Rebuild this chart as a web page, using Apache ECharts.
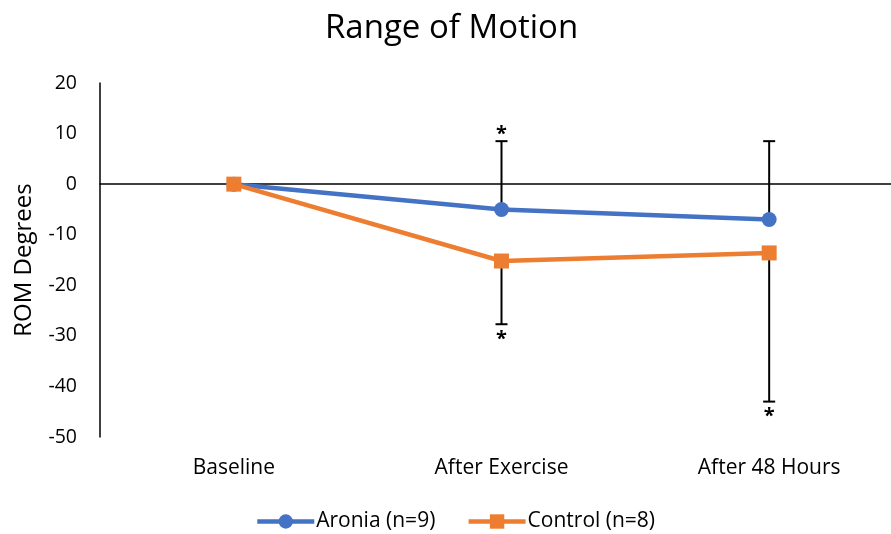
<!DOCTYPE html>
<html>
<head>
<meta charset="utf-8">
<script src="https://cdn.jsdelivr.net/npm/echarts@6/dist/echarts.min.js"></script>
<style>
html,body{margin:0;padding:0;background:#fff;}
#chart{width:891px;height:534px;}
</style>
</head>
<body>
<div id="chart"></div>
<script>
const categories = ['Baseline', 'After Exercise', 'After 48 Hours'];
const aronia = [0, -5, -7];
const control = [0, -15.2, -13.6];
const aroniaErrUp = [0, 13.5, 15.5];
const controlErrDown = [0, 12.5, 29.4];
const aroniaSig = ['', '*', ''];
const controlSig = ['', '*', '*'];
const yTicks = [-50, -40, -30, -20, -10, 0, 10, 20];

const FONT = '"Open Sans"';
const chart = echarts.init(document.getElementById('chart'));

function errData(vals, errs, dir) {
  return vals.map((v, i) => [i, v, v + dir * errs[i]]);
}

function errRender(dir, sigs) {
  return function (params, api) {
    const i = api.value(0);
    const v = api.value(1);
    const e = api.value(2);
    if (v === e) return null;
    const p0 = api.coord([i, v]);
    const p1 = api.coord([i, e]);
    const children = [
      { type: 'line', shape: { x1: p0[0], y1: p0[1], x2: p1[0], y2: p1[1] }, style: { stroke: '#000', lineWidth: 2 } },
      { type: 'line', shape: { x1: p1[0] - 6, y1: p1[1], x2: p1[0] + 6, y2: p1[1] }, style: { stroke: '#000', lineWidth: 2 } }
    ];
    const s = sigs[params.dataIndex];
    if (s) {
      children.push({
        type: 'text',
        style: {
          text: s, x: p1[0], y: dir > 0 ? p1[1] - 7 : p1[1] + 15,
          align: 'center', verticalAlign: 'middle',
          font: 'bold 20px ' + FONT, fill: '#000'
        }
      });
    }
    return { type: 'group', children: children };
  };
}

chart.setOption({
  animation: false,
  backgroundColor: '#fff',
  textStyle: { fontFamily: FONT },
  title: {
    text: 'Range of Motion', left: 320, top: 7,
    textStyle: { fontFamily: FONT, fontSize: 33, fontWeight: 'normal', color: '#000' }
  },
  legend: {
    bottom: -3, left: 250,
    data: ['Aronia (n=9)', 'Control (n=8)'],
    itemWidth: 57, itemHeight: 18, itemGap: 31,
    lineStyle: { width: 4.5 },
    textStyle: { fontFamily: FONT, fontSize: 21, color: '#000', padding: [0, 0, 0, -3] }
  },
  grid: { left: 100, top: 83, width: 803, height: 354, containLabel: false, outerBoundsMode: 'none' },
  xAxis: {
    type: 'category', data: categories,
    axisLine: { onZero: true, lineStyle: { color: '#000', width: 1.5 } },
    axisTick: { show: false },
    axisLabel: { fontFamily: FONT, fontSize: 21, color: '#000', margin: 31, verticalAlign: 'middle' },
    position: 'bottom'
  },
  yAxis: {
    type: 'value', min: -50, max: 20, interval: 10,
    name: 'ROM Degrees', nameLocation: 'middle', nameGap: 64, nameRotate: 90,
    nameTextStyle: { fontFamily: FONT, fontSize: 24, color: '#000' },
    axisLine: { show: true, lineStyle: { color: '#000', width: 1.5 } },
    axisTick: { show: false },
    splitLine: { show: false },
    axisLabel: { fontFamily: FONT, fontSize: 19.5, color: '#000', margin: 23,
      formatter: v => yTicks.includes(v) ? String(v) : '' }
  },
  series: [
    {
      type: 'custom', name: 'errA', z: 1, renderItem: errRender(1, aroniaSig),
      data: errData(aronia, aroniaErrUp, 1), silent: true
    },
    {
      type: 'custom', name: 'errC', z: 1, renderItem: errRender(-1, controlSig),
      data: errData(control, controlErrDown, -1), silent: true
    },
    {
      type: 'line', name: 'Aronia (n=9)', data: aronia, z: 3,
      symbol: 'circle', symbolSize: 15,
      itemStyle: { color: '#4472C4' },
      lineStyle: { color: '#4472C4', width: 4.5 }
    },
    {
      type: 'line', name: 'Control (n=8)', data: control, z: 4,
      symbol: 'rect', symbolSize: 15,
      itemStyle: { color: '#ED7D31' },
      lineStyle: { color: '#ED7D31', width: 4.5 }
    }
  ]
});
</script>
</body>
</html>
